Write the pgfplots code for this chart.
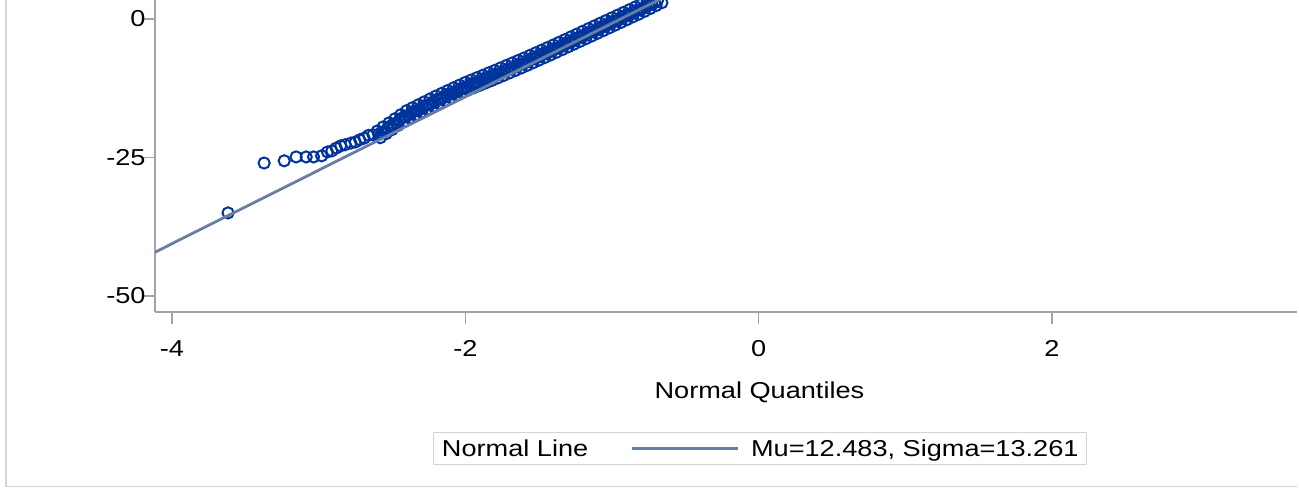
\documentclass[border=0pt]{standalone}
\usepackage{pgfplots}
\pgfplotsset{compat=1.18}
\usepackage{fontspec}
\setmainfont{Liberation Sans}[FakeStretch=1.18]
\definecolor{markblue}{HTML}{00349C}
\definecolor{fitline}{HTML}{667FA2}
\definecolor{axisgray}{HTML}{A3A3A3}
\definecolor{framegray}{HTML}{D3D3D3}
\newcommand{\lbl}{\fontsize{23bp}{27bp}\selectfont}
\pgfplotsset{fitlegend/.style={legend image code/.code={\draw[##1] (0bp,0bp) -- (106bp,0bp); \path (116bp,0bp);}}}
\begin{document}
\begin{tikzpicture}[x=1bp,y=1bp]
\useasboundingbox (0,0) rectangle (1299,488);
\begin{axis}[
  at={(155bp,176bp)}, anchor=south west,
  scale only axis, width=1142bp, height=312bp,
  xmin=-4.116, xmax=3.670, ymin=-52.89, ymax=3.43,
  clip mode=individual,
  axis x line*=bottom, axis y line*=left,
  axis line style={-, axisgray, line width=1.3bp},
  xtick={-4,-2,0,2}, xticklabels={-4,-2,0,2},
  ytick={-50,-25,0}, yticklabels={-50,-25,0},
  tick align=outside, major tick length=12bp,
  tick style={axisgray, line width=1.3bp},
  tick label style={font=\lbl, text=black},
  xticklabel style={yshift=-13bp},
  yticklabel style={xshift=6bp},
  xlabel={Normal Quantiles},
  xlabel style={font=\lbl, at={(axis description cs:0.5293,-0.256)}, anchor=center},
  legend style={at={(0.530,-0.4375)}, anchor=center, legend columns=-1,
    draw=framegray, line width=1bp, font=\lbl, inner xsep=6bp, inner ysep=5bp,
    /tikz/every even column/.append style={column sep=40bp}},
  legend cell align=left,
]
\addlegendimage{empty legend}
\addlegendentry{Normal Line}
\addplot[only marks, mark=o, mark size=5.6bp, mark options={markblue, line width=2bp}, forget plot] coordinates {
(-3.618,-35.0) (-3.372,-26.0) (-3.235,-25.6) (-3.154,-24.9) (-3.085,-24.9) (-3.035,-24.9)
(-2.98,-24.7) (-2.94,-24.0) (-2.91,-23.8) (-2.88,-23.3) (-2.85,-22.9) (-2.82,-22.7)
(-2.78,-22.4) (-2.75,-22.2) (-2.72,-21.8) (-2.69,-21.5) (-2.66,-21.0) (-2.63,-20.9)
(-2.60,-20.20) (-2.58,-21.43) (-2.56,-19.47) (-2.54,-20.70) (-2.52,-18.74) (-2.50,-19.97)
(-2.48,-18.00) (-2.46,-19.24) (-2.44,-17.27) (-2.42,-18.51) (-2.40,-16.54) (-2.38,-17.88)
(-2.36,-16.01) (-2.34,-17.35) (-2.32,-15.48) (-2.30,-16.82) (-2.28,-14.95) (-2.26,-16.29)
(-2.24,-14.42) (-2.22,-15.76) (-2.20,-13.89) (-2.18,-15.25) (-2.16,-13.40) (-2.14,-14.75)
(-2.12,-12.91) (-2.10,-14.26) (-2.08,-12.42) (-2.06,-13.77) (-2.04,-11.93) (-2.02,-13.28)
(-2.00,-11.44) (-1.98,-12.82) (-1.96,-11.01) (-1.94,-12.39) (-1.92,-10.58) (-1.90,-11.96)
(-1.88,-10.15) (-1.86,-11.53) (-1.84,-9.71) (-1.82,-11.10) (-1.80,-9.28) (-1.78,-10.66)
(-1.76,-8.83) (-1.74,-10.21) (-1.72,-8.38) (-1.70,-9.76) (-1.68,-7.93) (-1.66,-9.31)
(-1.64,-7.48) (-1.62,-8.86) (-1.60,-7.03) (-1.58,-8.40) (-1.56,-6.56) (-1.54,-7.93)
(-1.52,-6.09) (-1.50,-7.45) (-1.48,-5.62) (-1.46,-6.98) (-1.44,-5.15) (-1.42,-6.51)
(-1.40,-4.68) (-1.38,-6.03) (-1.36,-4.19) (-1.34,-5.54) (-1.32,-3.70) (-1.30,-5.05)
(-1.28,-3.21) (-1.26,-4.56) (-1.24,-2.72) (-1.22,-4.07) (-1.20,-2.22) (-1.18,-3.58)
(-1.16,-1.73) (-1.14,-3.09) (-1.12,-1.24) (-1.10,-2.60) (-1.08,-0.75) (-1.06,-2.11)
(-1.04,-0.26) (-1.02,-1.62) (-1.00,0.23) (-0.98,-1.13) (-0.96,0.72) (-0.94,-0.64)
(-0.92,1.21) (-0.90,-0.14) (-0.88,1.70) (-0.86,0.35) (-0.84,2.19) (-0.82,0.84)
(-0.80,2.68) (-0.78,1.35) (-0.76,3.21) (-0.74,1.88) (-0.72,3.74) (-0.70,2.41)
(-0.68,4.27) (-0.66,2.94) (-0.64,4.81) (-0.62,3.47) (-0.60,4.94) (-0.58,4.30) (-0.56,5.06)
(-2.59,-20.77) (-2.57,-20.55) (-2.55,-20.24) (-2.53,-19.72) (-2.51,-19.31) (-2.49,-19.09)
(-2.47,-18.77) (-2.45,-18.26) (-2.43,-17.84) (-2.41,-17.63) (-2.39,-17.36) (-2.37,-16.95)
(-2.35,-16.63) (-2.33,-16.52) (-2.31,-16.30) (-2.29,-15.89) (-2.27,-15.57) (-2.25,-15.46)
(-2.23,-15.24) (-2.21,-14.83) (-2.19,-14.52) (-2.17,-14.43) (-2.15,-14.23) (-2.13,-13.83)
(-2.11,-13.54) (-2.09,-13.44) (-2.07,-13.25) (-2.05,-12.85) (-2.03,-12.56) (-2.01,-12.46)
(-1.99,-12.28) (-1.97,-11.92) (-1.95,-11.65) (-1.93,-11.59) (-1.91,-11.42) (-1.89,-11.06)
(-1.87,-10.79) (-1.85,-10.72) (-1.83,-10.56) (-1.81,-10.19) (-1.79,-9.92) (-1.77,-9.85)
(-1.75,-9.67) (-1.73,-9.30) (-1.71,-9.02) (-1.69,-8.95) (-1.67,-8.77) (-1.65,-8.40)
(-1.63,-8.12) (-1.61,-8.05) (-1.59,-7.87) (-1.57,-7.48) (-1.55,-7.20) (-1.53,-7.11)
(-1.51,-6.92) (-1.49,-6.54) (-1.47,-6.25) (-1.45,-6.17) (-1.43,-5.98) (-1.41,-5.60)
(-1.39,-5.31) (-1.37,-5.21) (-1.35,-5.02) (-1.33,-4.62) (-1.31,-4.33) (-1.29,-4.23)
(-1.27,-4.04) (-1.25,-3.64) (-1.23,-3.35) (-1.21,-3.25) (-1.19,-3.05) (-1.17,-2.66)
(-1.15,-2.36) (-1.13,-2.27) (-1.11,-2.07) (-1.09,-1.68) (-1.07,-1.38) (-1.05,-1.29)
(-1.03,-1.09) (-1.01,-0.70) (-0.99,-0.40) (-0.97,-0.31) (-0.95,-0.11) (-0.93,0.29)
(-0.91,0.59) (-0.89,0.68) (-0.87,0.88) (-0.85,1.27) (-0.83,1.57) (-0.81,1.66)
(-0.79,1.87) (-0.77,2.28) (-0.75,2.60) (-0.73,2.71) (-0.71,2.93) (-0.69,3.34) (-0.67,3.66)
};
\addplot[fitline, line width=2.8bp, fitlegend] coordinates {(-4.2,-43.21) (-0.4,7.18)};
\addlegendentry{Mu=12.483, Sigma=13.261}
\end{axis}
\draw[framegray, line width=1.3bp] (6,488) -- (6,1.5) -- (1297,1.5);
\end{tikzpicture}
\end{document}
